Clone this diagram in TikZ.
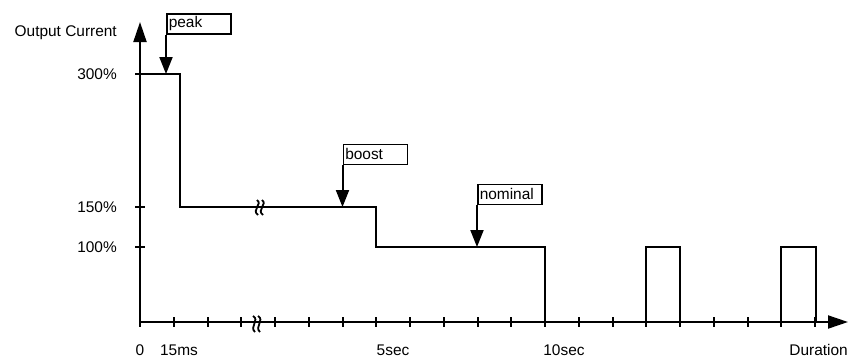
\documentclass[tikz,border=0pt]{standalone}
\usepackage{fontspec}
\setmainfont{Liberation Sans}
\usetikzlibrary{arrows.meta}
\begin{document}
\begin{tikzpicture}[x=1bp,y=-1bp,
  line/.style={line width=2bp},
  axisarrow/.style={line width=2bp,-{Triangle[length=20bp,width=13bp]}},
  labarrow/.style={line width=2bp,-{Triangle[length=17bp,width=13bp]}},
  tag/.style={draw,line width=1.5bp,minimum width=64bp,minimum height=20bp,inner sep=1.5bp,anchor=north west,align=left,text width=60bp,font=\fontsize{15.5}{16}\selectfont},
  lbl/.style={inner sep=0pt,font=\fontsize{15.5}{16}\selectfont},
  brk/.style={line width=1.8bp}]
\useasboundingbox (0,0) rectangle (860,358);
% axes
\coordinate (O) at (140,322);
\coordinate (ytop) at (140,22);
\coordinate (xend) at (848,322);
\draw[axisarrow] (O) -- (ytop);
\draw[axisarrow] (O) -- (xend);
% x ticks
\foreach \i in {0,...,20} {
  \draw[line] ({140+33.75*\i},317) -- ({140+33.75*\i},327);
}
% y ticks
\foreach \yy in {74,207,247} { \draw[line] (135,\yy) -- (145,\yy); }
% y labels
\node[lbl,anchor=east] (yl300) at (117,74) {300\%};
\node[lbl,anchor=east] (yl150) at (117,207) {150\%};
\node[lbl,anchor=east] (yl100) at (117,247) {100\%};
\node[lbl,anchor=east] (ylab) at (117,33) {Output Current};
% x labels
\node[lbl] (x0) at (140,350) {0};
\node[lbl] (x15) at (179,350) {15ms};
\node[lbl] (x5) at (393,350) {5sec};
\node[lbl] (x10) at (564,350) {10sec};
\node[lbl,anchor=east] (xlab) at (848,350) {Duration};
% waveform
\draw[line,line join=miter] (140,74) -- (180,74) -- (180,207) -- (375.5,207) -- (375.5,247) -- (545,247) -- (545,322);
\draw[line,line join=miter] (646,322) -- (646,247) -- (679.5,247) -- (679.5,322);
\draw[line,line join=miter] (781,322) -- (781,247) -- (815.5,247) -- (815.5,322);
% break marks
\foreach \dx in {0,5} {
  \draw[brk] ({257+\dx},200) .. controls ({263+\dx},204) and ({251+\dx},210) .. ({258+\dx},215);
  \draw[brk] ({253+\dx},316) .. controls ({260+\dx},320) and ({249+\dx},327) .. ({255+\dx},332);
}
% tags
\node[tag] (peak) at (166,13) {peak};
\node[tag] (boost) at (342.5,143.5) {boost};
\node[tag] (nominal) at (477,183.5) {nominal};
\coordinate (peakpt) at (166,74);
\coordinate (boostpt) at (342.5,207);
\coordinate (nompt) at (477,247);
\draw[labarrow] (peak.south west) -- (peakpt);
\draw[labarrow] (boost.south west) -- (boostpt);
\draw[labarrow] (nominal.south west) -- (nompt);
\end{tikzpicture}
\end{document}
